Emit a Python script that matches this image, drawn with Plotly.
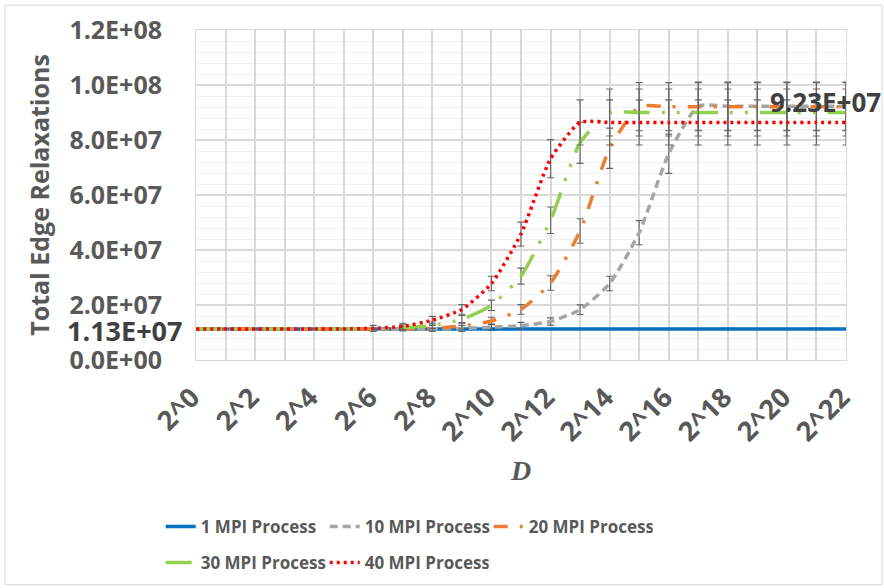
import plotly.graph_objects as go

# Category axis: D from 2^0 to 2^22
d_labels = ["2^0", "2^1", "2^2", "2^3", "2^4", "2^5", "2^6", "2^7", "2^8", "2^9", "2^10", "2^11",
            "2^12", "2^13", "2^14", "2^15", "2^16", "2^17", "2^18", "2^19", "2^20", "2^21", "2^22"]
d_shown = ["2^0", "2^2", "2^4", "2^6", "2^8", "2^10", "2^12", "2^14", "2^16", "2^18", "2^20", "2^22"]

# Total edge relaxations per MPI process count
mpi_1 = [1.13e7, 1.13e7, 1.13e7, 1.13e7, 1.13e7, 1.13e7, 1.13e7, 1.13e7, 1.13e7, 1.13e7, 1.13e7, 1.13e7,
         1.13e7, 1.13e7, 1.13e7, 1.13e7, 1.13e7, 1.13e7, 1.13e7, 1.13e7, 1.13e7, 1.13e7, 1.13e7]
mpi_10 = [1.13e7, 1.13e7, 1.13e7, 1.13e7, 1.13e7, 1.13e7, 1.13e7, 1.13e7, 1.13e7, 1.15e7, 1.19e7, 1.25e7,
          1.40e7, 1.83e7, 2.78e7, 4.63e7, 7.50e7, 9.23e7, 9.23e7, 9.23e7, 9.23e7, 9.23e7, 9.23e7]
mpi_20 = [1.13e7, 1.13e7, 1.13e7, 1.13e7, 1.13e7, 1.13e7, 1.13e7, 1.13e7, 1.15e7, 1.24e7, 1.42e7, 1.84e7,
          2.80e7, 4.69e7, 7.70e7, 9.21e7, 9.21e7, 9.21e7, 9.21e7, 9.21e7, 9.21e7, 9.21e7, 9.21e7]
mpi_30 = [1.13e7, 1.13e7, 1.13e7, 1.13e7, 1.13e7, 1.13e7, 1.13e7, 1.17e7, 1.26e7, 1.48e7, 1.99e7, 3.05e7,
          5.08e7, 7.90e7, 9.00e7, 9.00e7, 9.00e7, 9.00e7, 9.00e7, 9.00e7, 9.00e7, 9.00e7, 9.00e7]
mpi_40 = [1.13e7, 1.13e7, 1.13e7, 1.13e7, 1.13e7, 1.13e7, 1.15e7, 1.22e7, 1.45e7, 1.84e7, 2.78e7, 4.58e7,
          7.32e7, 8.64e7, 8.64e7, 8.64e7, 8.64e7, 8.64e7, 8.64e7, 8.64e7, 8.64e7, 8.64e7, 8.64e7]

series_names = ["1 MPI Process", "10 MPI Process", "20 MPI Process", "30 MPI Process", "40 MPI Process"]
series_values = [mpi_1, mpi_10, mpi_20, mpi_30, mpi_40]

y_tickvals = [0, 2e7, 4e7, 6e7, 8e7, 1e8, 1.2e8]
y_ticktext = ["0.0E+00", "2.0E+07", "4.0E+07", "6.0E+07", "8.0E+07", "1.0E+08", "1.2E+08"]

# relative spread shown as error bars (fraction of the value)
ERR_FRACTION = 0.095

FONT = "Open Sans"
TXT = "#595959"
GRID = "#D9D9D9"

styles = [
    dict(color="#0070C0", width=3.5, dash="solid"),
    dict(color="#A5A5A5", width=3.5, dash="8px,5px"),
    dict(color="#ED7D31", width=3.5, dash="14px,12px,3px,12px"),
    dict(color="#92D050", width=3.5, dash="26px,12px,3px,12px,3px,12px"),
    dict(color="#FF0000", width=3.5, dash="3px,4px"),
]
legend_ids = ["legend", "legend", "legend", "legend2", "legend2"]

fig = go.Figure()
for name, vals, st, lg in zip(series_names, series_values, styles, legend_ids):
    # no spread drawn where a run stays at the single-process baseline
    errs = [0 if v <= mpi_1[0] else ERR_FRACTION * v for v in vals]
    fig.add_trace(go.Scatter(
        x=d_labels, y=vals, name=name, mode="lines",
        line=dict(color=st["color"], width=st["width"], dash=st["dash"], shape="spline", smoothing=0.55),
        error_y=dict(type="data", array=errs, color="#666666", thickness=1.1, width=3.5),
        legend=lg, cliponaxis=False,
    ))

# value callouts
fig.add_annotation(x=0, xref="paper", y=mpi_1[0], yref="y", text=f"{mpi_1[0]:.2E}",
                   xanchor="right", yanchor="middle", xshift=-12, yshift=-2, showarrow=False,
                   font=dict(family=FONT, size=27, color="#404040", weight="bold"))
fig.add_annotation(x=d_labels[-1], y=mpi_10[-1], text=f"{mpi_10[-1]:.2E}",
                   xanchor="right", yanchor="middle", xshift=37, yshift=4, showarrow=False,
                   font=dict(family=FONT, size=26, color="#404040", weight="bold"))

x_ticktext = [lab if lab in d_shown else "" for lab in d_labels]

legend_common = dict(orientation="h", xanchor="left", yanchor="middle",
                     xref="container", yref="container",
                     entrywidth=119, entrywidthmode="pixels",
                     font=dict(family=FONT, size=17, color=TXT, weight="bold"),
                     bgcolor="rgba(0,0,0,0)", itemclick=False)

fig.update_layout(
    width=884, height=588,
    margin=dict(l=196, r=38, t=28, b=228),
    paper_bgcolor="white", plot_bgcolor="white",
    xaxis=dict(
        type="category", range=[0, 22],
        tickmode="array", tickvals=d_labels, ticktext=x_ticktext, tickangle=-45,
        tickfont=dict(family=FONT, size=27, color=TXT, weight="bold"),
        showgrid=True, gridcolor=GRID, gridwidth=1.5,
        showline=True, linecolor=GRID, linewidth=1, mirror=True,
        ticks="", ticklabelstandoff=10, ticklabelshift=-4,
        title=dict(text="<b><i>D</i></b>", font=dict(family="Liberation Serif", size=28, color=TXT), standoff=12),
    ),
    yaxis=dict(
        range=[0, 1.2e8], tickmode="array", tickvals=y_tickvals, ticktext=y_ticktext,
        tickfont=dict(family=FONT, size=25, color=TXT, weight="bold"),
        showgrid=True, gridcolor=GRID, gridwidth=1.5,
        minor=dict(dtick=4e6, showgrid=True, gridcolor="#F0F0F0", gridwidth=1),
        showline=True, linecolor=GRID, linewidth=1, mirror=True,
        ticks="", ticklabelstandoff=28, zeroline=False,
        title=dict(text="Total Edge Relaxations", font=dict(family=FONT, size=25, color=TXT, weight="bold"), standoff=12),
    ),
    legend=dict(x=0.1818, y=0.1037, **legend_common),
    legend2=dict(x=0.1818, y=0.0425, **legend_common),
    shapes=[dict(type="rect", xref="paper", yref="paper",
                 x0=-191 / 650, x1=1 + 36 / 650, y0=-226 / 332, y1=1 + 25 / 332,
                 line=dict(color=GRID, width=1), fillcolor="rgba(0,0,0,0)", layer="below")],
)

fig.write_html("out.html")
